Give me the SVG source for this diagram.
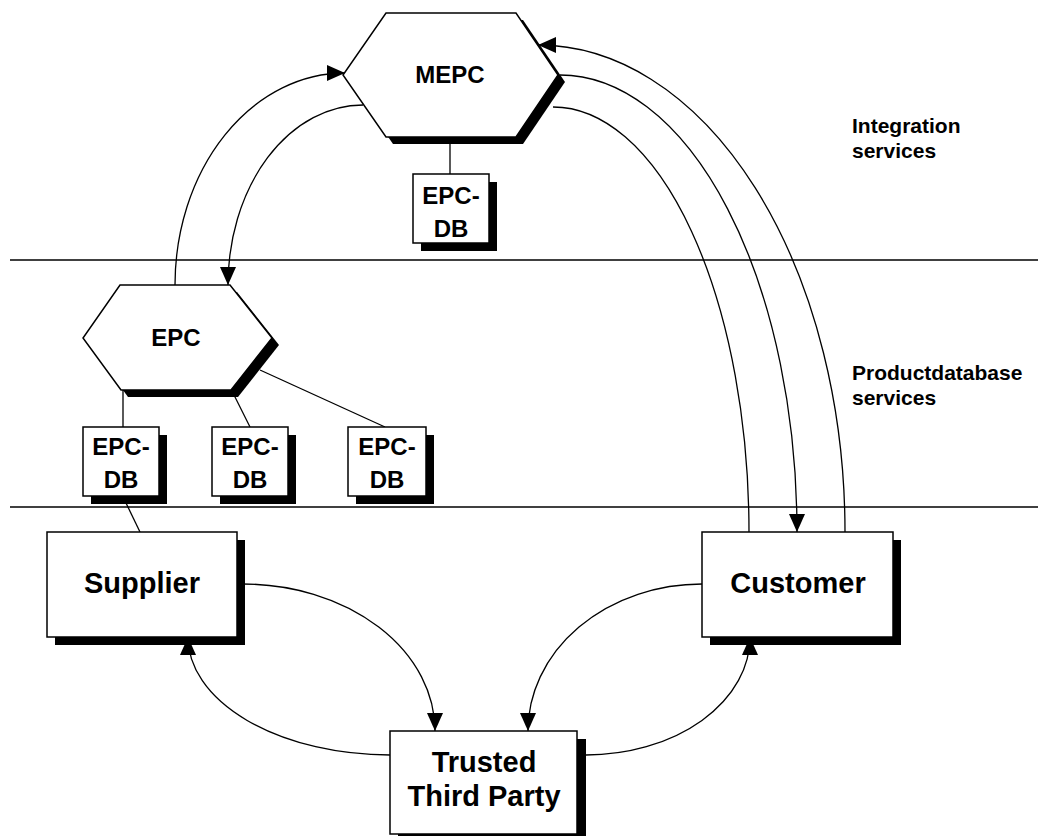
<svg xmlns="http://www.w3.org/2000/svg" width="1038" height="836" viewBox="0 0 1038 836">
<style>
.shape{fill:#fff;stroke:#000;stroke-width:1.5}
.shadow{fill:#000}
.ln{fill:none;stroke:#000;stroke-width:1.3}
.t{font-family:"Liberation Sans",Arial,sans-serif;font-weight:bold;fill:#000;text-anchor:middle}
.big{font-size:29px}
.mid{font-size:24px}
.lab{font-family:"Liberation Sans",Arial,sans-serif;font-weight:bold;font-size:21px;fill:#000}
</style>
<defs>
<marker id="ah" markerUnits="userSpaceOnUse" markerWidth="18" markerHeight="16" refX="18" refY="8" orient="auto">
<path d="M0,0 L18,8 L0,16 z" fill="#000"/>
</marker>
</defs>
<rect width="1038" height="836" fill="#fff"/>

<g id="layers">
<line class="ln" x1="10" y1="260" x2="1038" y2="260"/>
<line class="ln" x1="10" y1="507" x2="1038" y2="507"/>
<text class="lab" x="852" y="133">Integration</text>
<text class="lab" x="852" y="158">services</text>
<text class="lab" x="852" y="380">Productdatabase</text>
<text class="lab" x="852" y="405">services</text>
</g>

<g id="connectors">
<line class="ln" x1="450" y1="137" x2="450" y2="174"/>
<line class="ln" x1="123" y1="390" x2="123" y2="427"/>
<line class="ln" x1="233" y1="393" x2="250" y2="427"/>
<line class="ln" x1="260" y1="370" x2="385" y2="427"/>
<line class="ln" x1="126" y1="503" x2="140" y2="532"/>
<path class="ln" d="M175,285 A170,212 0 0 1 345,73" marker-end="url(#ah)"/>
<path class="ln" d="M363,105 A135,180 0 0 0 228,285" marker-end="url(#ah)"/>
<path class="ln" d="M845,532 A307,487 0 0 0 538,45" marker-end="url(#ah)"/>
<path class="ln" d="M560,75 A237,457 0 0 1 797,532" marker-end="url(#ah)"/>
<path class="ln" d="M553,107 A196,425 0 0 1 749,532"/>
<path class="ln" d="M243,584 A192,147 0 0 1 435,731" marker-end="url(#ah)"/>
<path class="ln" d="M390,755 A202,118 0 0 1 188,637" marker-end="url(#ah)"/>
<path class="ln" d="M702,584 A174,147 0 0 0 528,731" marker-end="url(#ah)"/>
<path class="ln" d="M586,755 A164,118 0 0 0 750,637" marker-end="url(#ah)"/>
</g>

<g id="mepc">
<polygon class="shadow" points="393,20 523,20 565,82 523,144 393,144 350,82"/>
<polygon class="shape" points="386,13 516,13 558,75 516,137 386,137 343,75"/>
<text class="t mid" x="450" y="83">MEPC</text>
</g>

<g id="mepc-db">
<rect class="shadow" x="421" y="182" width="76" height="69"/>
<rect class="shape" x="413" y="174" width="76" height="69"/>
<text class="t mid" x="451" y="204">EPC-</text>
<text class="t mid" x="451" y="237">DB</text>
</g>

<g id="epc">
<polygon class="shadow" points="127,292 237,292 279,345 238,397 128,397 90,345"/>
<polygon class="shape" points="120,285 230,285 272,338 231,390 121,390 83,338"/>
<text class="t mid" x="176" y="346">EPC</text>
</g>

<g id="epc-db-1">
<rect class="shadow" x="91" y="435" width="76" height="69"/>
<rect class="shape" x="83" y="427" width="76" height="69"/>
<text class="t mid" x="121" y="455">EPC-</text>
<text class="t mid" x="121" y="488">DB</text>
</g>

<g id="epc-db-2">
<rect class="shadow" x="220" y="435" width="76" height="69"/>
<rect class="shape" x="212" y="427" width="76" height="69"/>
<text class="t mid" x="250" y="455">EPC-</text>
<text class="t mid" x="250" y="488">DB</text>
</g>

<g id="epc-db-3">
<rect class="shadow" x="356" y="435" width="78" height="69"/>
<rect class="shape" x="348" y="427" width="78" height="69"/>
<text class="t mid" x="387" y="455">EPC-</text>
<text class="t mid" x="387" y="488">DB</text>
</g>

<g id="supplier">
<rect class="shadow" x="55" y="540" width="190" height="105"/>
<rect class="shape" x="47" y="532" width="190" height="105"/>
<text class="t big" x="142" y="593">Supplier</text>
</g>

<g id="customer">
<rect class="shadow" x="710" y="540" width="191" height="105"/>
<rect class="shape" x="702" y="532" width="191" height="105"/>
<text class="t big" x="798" y="593">Customer</text>
</g>

<g id="trusted-third-party">
<rect class="shadow" x="398" y="739" width="188" height="110"/>
<rect class="shape" x="390" y="731" width="187" height="103"/>
<text class="t big" x="484" y="772">Trusted</text>
<text class="t big" x="484" y="806">Third Party</text>
</g>
</svg>
